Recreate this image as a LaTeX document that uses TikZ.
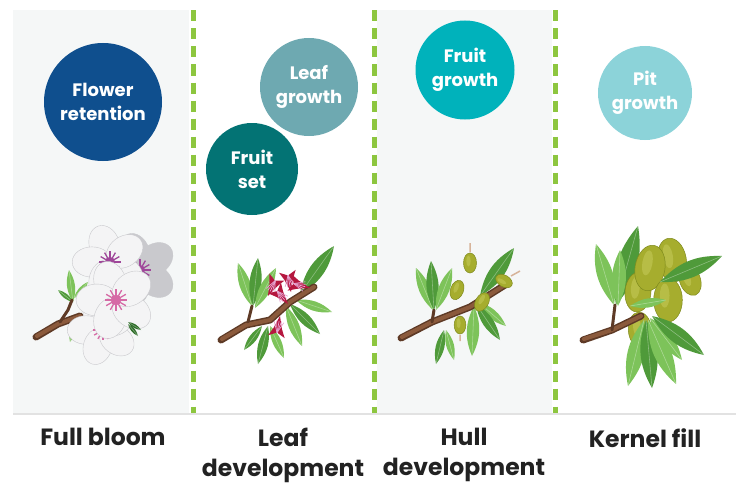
\documentclass[tikz,border=0pt]{standalone}
\usepackage{fontspec}
\setmainfont{Poppins}
\usetikzlibrary{positioning}

\definecolor{panelgray}{HTML}{F5F7F7}
\definecolor{dashgreen}{HTML}{8DC63F}
\definecolor{rulegray}{HTML}{E2E2E2}
\definecolor{labeltext}{HTML}{222222}
\definecolor{retblue}{HTML}{0F4F8E}
\definecolor{leafteal}{HTML}{6EA9B1}
\definecolor{setteal}{HTML}{037374}
\definecolor{growcyan}{HTML}{00B2BB}
\definecolor{pitcyan}{HTML}{8CD3D9}
\definecolor{leafA}{HTML}{7DC35A}
\definecolor{leafB}{HTML}{4F9A3A}
\definecolor{leafC}{HTML}{2F6E2A}
\definecolor{bark}{HTML}{8B5A3C}
\definecolor{barkdark}{HTML}{5E3A26}
\definecolor{petal}{HTML}{F4F4F5}
\definecolor{petalgray}{HTML}{C9C9CD}
\definecolor{pinkc}{HTML}{D66AA6}
\definecolor{purplec}{HTML}{A0479A}
\definecolor{crimson}{HTML}{B5173F}
\definecolor{stamen}{HTML}{E7A6D3}
\definecolor{olive}{HTML}{A6AD2E}
\definecolor{olivedark}{HTML}{7E8A1E}
\definecolor{olivelight}{HTML}{C3C857}
\definecolor{tuft}{HTML}{D7B49A}

\newcommand{\leaf}[3][leafA]{\fill[#1] #2 to[bend left=25] #3 to[bend left=25] #2 -- cycle;
  \draw[white, opacity=0.35, line width=0.6pt] #2 -- #3;}
\newcommand{\blossom}[4][petal]{%
  \foreach \a in {0,72,...,288}
    \filldraw[#1, draw=petalgray, line width=0.4pt, shift={(#2)}, rotate=\a+18] (0,-#3*0.5) ellipse ({#3*0.42} and {#3*0.55});
  \foreach \a in {0,30,...,330}
    \draw[#4, line width=1.3pt, shift={(#2)}] (0,0) -- (\a:#3*0.3);
  \fill[#4] (#2) circle (#3*0.14);}
\newcommand{\redbloom}[2]{%
  \fill[crimson, shift={(#1)}, rotate=#2, scale=1.4] (0,0) -- (-3,-9) -- (-6,-15) -- (0,-12) -- (6,-15) -- (3,-9) -- cycle;
  \foreach \s in {-24,-12,0,12,24}
    \draw[stamen, line width=0.7pt, shift={(#1)}, rotate=#2] (0,-17) -- ++(\s+90:12);}
\newcommand{\nut}[4][olive]{%
  \filldraw[#1, draw=olivedark, line width=0.5pt, shift={(#2)}, rotate=#4] (0,0) ellipse (#3*0.65 and #3);
  \fill[olivelight, opacity=0.6, shift={(#2)}, rotate=#4] (-#3*0.15,-#3*0.2) ellipse (#3*0.22 and #3*0.55);}

\tikzset{
  stage/.style={circle, minimum size=#1, inner sep=0pt, text=white, font=\bfseries\fontsize{18}{24}\selectfont, align=center},
  stagelabel/.style={text=labeltext, font=\bfseries\fontsize{23.5}{30}\selectfont, align=center, anchor=north},
  divider/.style={dashgreen, line width=5pt, dash pattern=on 11pt off 7pt},
  twig/.style={barkdark, line cap=round, line join=round}
}

\begin{document}
\begin{tikzpicture}[x=1pt, y=-1pt]
  \useasboundingbox (0,0) rectangle (744,487);

  \fill[panelgray] (13,10) rectangle (189,413);
  \fill[panelgray] (377,10) rectangle (552,413);
  \draw[rulegray, line width=2.5pt] (13,414) -- (736,414);

  \coordinate (d1top) at (193.5,10.5);
  \coordinate (d1bot) at (193.5,413);
  \coordinate (d2top) at (374,10.5);
  \coordinate (d2bot) at (374,413);
  \coordinate (d3top) at (555,10.5);
  \coordinate (d3bot) at (555,413);
  \draw[divider] (d1top) -- (d1bot);
  \draw[divider] (d2top) -- (d2bot);
  \draw[divider] (d3top) -- (d3bot);

  \node[stage=118pt, fill=retblue] (retention) at (103,102) {Flower\\retention};
  \node[stage=98pt, fill=leafteal] (leafgrowth) at (309,87) {Leaf\\growth};
  \node[stage=92pt, fill=setteal] (fruitset) at (252,169) {Fruit\\set};
  \node[stage=99pt, fill=growcyan] (fruitgrowth) at (465,70) {Fruit\\growth};
  \node[stage=94pt, fill=pitcyan] (pitgrowth) at (645,93) {Pit\\growth};

  \node[stagelabel] (fullbloom) at (103,425) {Full bloom};
  \node[stagelabel] (leafdev) at (283,425) {Leaf\\development};
  \node[stagelabel] (hulldev) at (464,425) {Hull\\development};
  \node[stagelabel] (kernelfill) at (645,425) {Kernel fill};

  % full bloom
  \leaf[leafA]{(73,302)}{(69,270)}
  \leaf[leafB]{(73,302)}{(58,290)}
  \leaf[leafA]{(74,298)}{(88,282)}
  \leaf[leafA]{(76,318)}{(70,342)}
  \leaf[leafB]{(77,318)}{(82,340)}
  \draw[twig, line width=7pt] (36,337) -- (58,324) -- (80,316);
  \draw[bark, line width=4pt, line cap=round] (37,336) -- (58,324) -- (80,316);
  \draw[twig, line width=3pt] (60,322) -- (68,310) -- (72,300);
  \blossom[petalgray]{140,270}{36}{purplec}
  \blossom[petal]{103,330}{34}{pinkc}
  \blossom[petal]{110,262}{36}{purplec}
  \blossom[petal]{116,300}{38}{pinkc}
  \leaf[leafC]{(128,322)}{(141,330)}
  \leaf[leafC]{(128,324)}{(138,336)}

  % leaf development
  \leaf[leafA]{(252,306)}{(238,263)}
  \leaf[leafB]{(253,306)}{(258,258)}
  \leaf[leafA]{(255,308)}{(276,268)}
  \leaf[leafB]{(300,294)}{(334,246)}
  \leaf[leafA]{(286,306)}{(302,346)}
  \leaf[leafB]{(290,304)}{(320,334)}
  \leaf[leafA]{(296,300)}{(332,312)}
  \leaf[leafB]{(268,326)}{(258,364)}
  \leaf[leafA]{(270,326)}{(284,358)}
  \leaf[leafB]{(262,326)}{(244,350)}
  \draw[twig, line width=7pt] (221,340) -- (246,325) -- (270,320) -- (290,302) -- (314,287);
  \draw[bark, line width=4pt, line cap=round] (222,339) -- (246,325) -- (270,320) -- (290,302) -- (314,287);
  \draw[twig, line width=3pt] (248,322) -- (252,306);
  \redbloom{291,292}{10}
  \redbloom{268,296}{-25}
  \redbloom{288,304}{40}
  \redbloom{310,288}{75}
  \redbloom{280,316}{170}

  % hull development
  \leaf[leafA]{(433,310)}{(416,268)}
  \leaf[leafB]{(434,310)}{(431,261)}
  \leaf[leafA]{(436,310)}{(452,268)}
  \leaf[leafB]{(480,296)}{(514,248)}
  \leaf[leafA]{(478,302)}{(506,326)}
  \leaf[leafB]{(476,304)}{(500,340)}
  \leaf[leafA]{(474,306)}{(472,356)}
  \leaf[leafB]{(444,330)}{(436,364)}
  \leaf[leafA]{(446,330)}{(454,360)}
  \draw[twig, line width=7pt] (401,338) -- (432,322) -- (470,307) -- (505,285);
  \draw[bark, line width=4pt, line cap=round] (402,337) -- (432,322) -- (470,307) -- (505,285);
  \draw[twig, line width=3pt] (432,322) -- (434,310);
  \draw[tuft, line width=1.5pt] (470,252) -- (470,243) (511,276) -- (520,271) (460,335) -- (460,341);
  \nut{457,290}{10}{-20}
  \nut{470,263}{10}{0}
  \nut{482,302}{10}{-30}
  \nut{504,281}{9}{60}
  \nut{460,325}{9}{0}

  % kernel fill
  \leaf[leafA]{(614,305)}{(596,244)}
  \leaf[leafB]{(616,305)}{(638,226)}
  \leaf[leafA]{(618,306)}{(620,250)}
  \nut{638,292}{20}{-5}
  \nut{672,260}{22}{10}
  \nut{650,268}{23}{-10}
  \nut{690,280}{16}{20}
  \nut{668,300}{22}{0}
  \nut{640,330}{18}{5}
  \leaf[leafB]{(660,282)}{(722,256)}
  \draw[twig, line width=7pt] (583,340) -- (612,330) -- (641,316);
  \draw[bark, line width=4pt, line cap=round] (584,339) -- (612,330) -- (641,316);
  \draw[twig, line width=3pt] (612,330) -- (615,305);
  \leaf[leafA]{(644,320)}{(628,386)}
  \leaf[leafB]{(646,320)}{(652,388)}
  \leaf[leafA]{(650,318)}{(682,360)}
  \leaf[leafB]{(652,316)}{(704,355)}
  \leaf[leafA]{(648,320)}{(676,384)}
  \leaf[leafA]{(630,306)}{(666,300)}
\end{tikzpicture}
\end{document}
